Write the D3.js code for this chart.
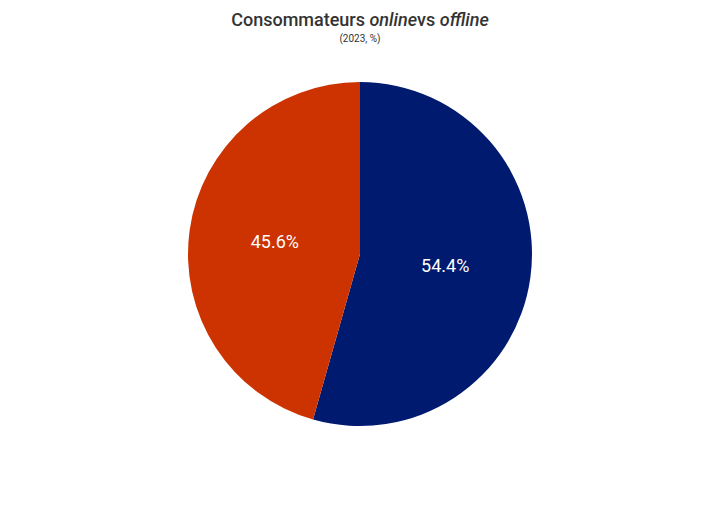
<!DOCTYPE html>
<html lang="en">
<head>
<meta charset="UTF-8">
<title>Consommateurs online vs offline</title>
<script src="https://cdn.jsdelivr.net/npm/d3@7"></script>
<style>
  body { margin: 0; background: #fff; font-family: Roboto, "Noto Sans", sans-serif; }
</style>
</head>
<body>
<svg id="chart" width="720" height="506"></svg>
<script>
// data
const categories = ["online", "offline"];
const values = [54.4, 45.6];
const colors = ["#001a70", "#cc3300"];

const svg = d3.select("#chart"),
  cx = 360, cy = 254, radius = 172;

// title with italic words
const title = svg.append("text")
  .attr("x", 360).attr("y", 26)
  .attr("text-anchor", "middle")
  .attr("font-size", 18).attr("font-weight", 500)
  .attr("fill", "#333");
title.append("tspan").text("Consommateurs ");
title.append("tspan").attr("font-style", "italic").text("online");
title.append("tspan").text("vs ");
title.append("tspan").attr("font-style", "italic").text("offline");

svg.append("text")
  .attr("x", 360).attr("y", 42)
  .attr("text-anchor", "middle")
  .attr("font-size", 10).attr("fill", "#333")
  .text("(2023, %)");

const pie = d3.pie().sort(null).value(d => d)(values);
const arc = d3.arc().innerRadius(0).outerRadius(radius);
const labelArc = d3.arc().innerRadius(radius * 0.5).outerRadius(radius * 0.5);

const g = svg.append("g").attr("transform", `translate(${cx},${cy})`);

g.selectAll("path")
  .data(pie)
  .join("path")
  .attr("d", arc)
  .attr("fill", (d, i) => colors[i]);

g.selectAll("text")
  .data(pie)
  .join("text")
  .attr("transform", d => `translate(${labelArc.centroid(d)})`)
  .attr("text-anchor", "middle")
  .attr("dy", "0.35em")
  .attr("font-size", 18)
  .attr("fill", "#fff")
  .text(d => d.value.toFixed(1) + "%");
</script>
</body>
</html>
